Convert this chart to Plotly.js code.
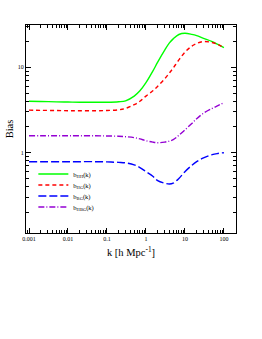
<!DOCTYPE html>
<html><head><meta charset="utf-8">
<script src="https://cdn.plot.ly/plotly-3.0.1.min.js"></script>
<style>html,body{margin:0;padding:0;background:#fff}#g{width:262px;height:339px}</style>
</head><body><div id="g"></div>
<script>
const k   = [0.001,0.002,0.005,0.01,0.02,0.05,0.1,0.2,0.3,0.5,0.7,1,1.5,2,3,4,5,7,10,15,20,30,50,70,100];
const bHH = [4.0,3.98,3.94,3.92,3.9,3.9,3.9,3.95,4.05,4.6,5.3,6.6,9.0,11.5,15.8,19.3,21.5,24.2,25,24.3,23.5,21.8,20,18.5,17];
const bHG = [3.15,3.13,3.12,3.1,3.1,3.1,3.12,3.18,3.3,3.65,4.0,4.6,5.3,6.0,7.3,8.6,9.8,12.2,15,17.7,19,20,19.5,18.5,17];
const bBG = [0.785,0.785,0.785,0.785,0.785,0.785,0.78,0.77,0.76,0.72,0.67,0.6,0.53,0.47,0.44,0.43,0.44,0.5,0.6,0.71,0.785,0.87,0.95,0.98,1.0];
const bHBG= [1.58,1.58,1.58,1.58,1.58,1.58,1.57,1.56,1.54,1.5,1.45,1.38,1.33,1.31,1.33,1.37,1.42,1.6,1.85,2.2,2.5,2.9,3.3,3.55,3.85];
const names = ['b<sub>HH</sub>(k)','b<sub>HG</sub>(k)','b<sub>BG</sub>(k)','b<sub>HBG</sub>(k)'];
const xTickVals = [0.001,0.01,0.1,1,10,100];
const xTickText = ['0.001','0.01','0.1','1','10','100'];
const yTickVals = [1,10];
const yTickText = ['1','10'];

const font = 'Liberation Serif, Times New Roman, serif';
const styles = [
  {color:'#00ff00',width:1.4,shape:'spline'},
  {color:'#ff0000',width:1.4,dash:'4px,3px',shape:'spline'},
  {color:'#0000ff',width:1.4,dash:'8px,3px',shape:'spline'},
  {color:'#9400d3',width:1.4,dash:'6px,2px,1px,2px',shape:'spline'}
];
const series = [bHH,bHG,bBG,bHBG];
const legIds = ['legend','legend2','legend3','legend4'];
const traces = series.map((y,i)=>({type:'scatter',mode:'lines',x:k,y:y,name:names[i],line:styles[i],legend:legIds[i]}));

const axCommon = {type:'log',showgrid:false,zeroline:false,showline:true,linecolor:'#000',linewidth:1,mirror:'allticks',ticks:'inside',ticklen:5,tickcolor:'#000',tickfont:{family:font,size:6,color:'#000'}};
const layout = {
  width:262,height:339,margin:{l:26,r:26,t:25,b:106},
  paper_bgcolor:'#fff',plot_bgcolor:'#fff',font:{family:font,color:'#000'},
  showlegend:true,
  xaxis:Object.assign({},axCommon,{range:[-3.077,2.31],tickvals:xTickVals,ticktext:xTickText,
     minor:{ticks:'inside',ticklen:3,tickcolor:'#000',dtick:'D1'},
     title:{text:'k [h Mpc<sup>-1</sup>]',font:{family:font,size:10.5,color:'#000'},standoff:7}}),
  yaxis:Object.assign({},axCommon,{range:[-0.94,1.495],tickvals:yTickVals,ticktext:yTickText,
     minor:{ticks:'inside',ticklen:3,tickcolor:'#000',dtick:'D1'},
     title:{text:'Bias',font:{family:font,size:10.5,color:'#000'},standoff:2}})
};
const legY = [174,185,196,207];
legIds.forEach((id,i)=>{
  layout[id] = {x:0.035,y:(233-legY[i])/208,xanchor:'left',yanchor:'middle',bgcolor:'rgba(0,0,0,0)',
    font:{family:font,size:6.5,color:'#000'},itemwidth:30};
});
Plotly.newPlot('g',traces,layout,{staticPlot:true,displayModeBar:false});
</script></body></html>
